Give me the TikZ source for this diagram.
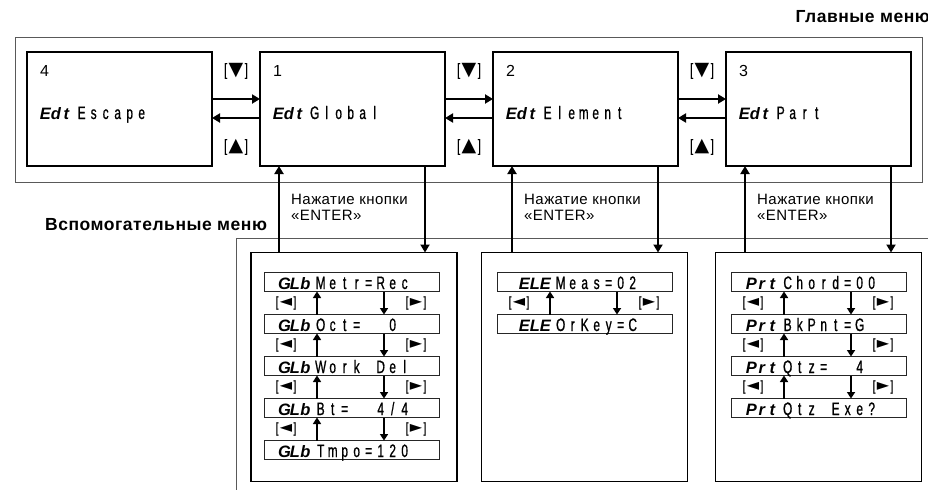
\documentclass[tikz,border=0pt]{standalone}
\usepackage{fontspec}
\setmainfont{Liberation Sans}
\newfontfamily\lcdfont[FakeStretch=0.66,FakeBold=0.8]{Liberation Sans}
\newfontfamily\segfont{Liberation Sans}
\newfontfamily\keyfont{DejaVu Sans}
\newfontfamily\ttlfont[LetterSpace=3]{Liberation Sans}
\newfontfamily\lblfont[LetterSpace=3]{Liberation Sans}
\usetikzlibrary{arrows.meta,positioning,calc}

% fixed pitch text of the display
\newlength\lcdpitch
\setlength\lcdpitch{12pt}
\def\lcdloop#1{\ifx#1\relax\else\makebox[\lcdpitch][c]{#1}\expandafter\lcdloop\fi}
\newcommand\lcd[1]{{\lcdfont\expandafter\lcdloop#1\relax}}
\newcommand\seg[1]{{\segfont\bfseries\itshape\fontsize{16.5}{18}\selectfont\setlength\lcdpitch{10.5pt}\expandafter\lcdloop#1\relax}\hspace{4pt}}
\newcommand\key[2]{{\lcdfont[\hspace{1.5pt}{\keyfont\fontsize{#1}{#1}\selectfont #2}\hspace{1.5pt}]}}

\begin{document}
\begin{tikzpicture}[x=1pt,y=-1pt,
frame/.style={draw=black!65,line width=0.9pt},
mainbox/.style={draw,line width=2.3pt,minimum width=185pt,minimum height=114pt,inner sep=0pt,outer sep=0pt},
panel/.style={draw,line width=1.2pt,minimum width=206pt,minimum height=229pt,inner sep=0pt,outer sep=0pt},
lcdrow/.style={draw=black!85,line width=1pt,minimum width=175pt,minimum height=19pt,inner sep=0pt,outer sep=0pt},
lcdtxt/.style={anchor=base west,inner sep=0pt,font=\fontsize{18}{18}\selectfont},
numtxt/.style={anchor=base west,inner sep=0pt,font=\fontsize{16}{18}\selectfont},
conn/.style={line width=2.8pt,-{Triangle[length=8pt,width=9pt]}},
rowconn/.style={line width=2.6pt,-{Triangle[length=6.5pt,width=8pt]}},
bigkey/.style={inner sep=0pt,font=\fontsize{17}{18}\selectfont},
smallkey/.style={inner sep=0pt,font=\fontsize{14}{15}\selectfont},
ttl/.style={inner sep=0pt,font=\ttlfont\bfseries\fontsize{17.5}{20}\selectfont},
enterlbl/.style={anchor=west,align=left,inner sep=0pt,font=\lblfont\fontsize{15}{16.3}\selectfont}]
\useasboundingbox (0,0) rectangle (928,490);

%frames
\draw[frame] (15,37) rectangle (922,182);
\draw[frame] (928,238) -- (236,238) -- (236,490);
\node[ttl,anchor=base east] (mainttl) at (930,22) {Главные меню};
\node[ttl,anchor=base west] (subttl) at (45,230) {Вспомогательные меню};

%main menus
\node[mainbox] (m4) at (119.5,109) {};
\node[mainbox,right=48pt of m4] (m1) {};
\node[mainbox,right=48pt of m1] (m2) {};
\node[mainbox,right=48pt of m2] (m3) {};
\foreach \m/\n/\t in {m4/4/Escape,m1/1/Global,m2/2/Element,m3/3/Part}{
  \node[numtxt] (\m-num) at ([xshift=13pt,yshift=-24pt]\m.north west) {\n};
  \node[lcdtxt] (\m-txt) at ([xshift=13pt,yshift=-67pt]\m.north west) {\seg{Edt}\lcd{\t}};
}
\foreach \a/\b in {m4/m1,m1/m2,m2/m3}{
  \draw[conn] ([yshift=10pt]\a.east) -- ([yshift=10pt]\b.west);
  \draw[conn] ([yshift=-9pt]\b.west) -- ([yshift=-9pt]\a.east);
  \node[bigkey] (\a-dn) at ($(\a.east)!0.5!(\b.west)+(0,-38)$) {\key{19}{▼}};
  \node[bigkey] (\a-up) at ($(\a.east)!0.5!(\b.west)+(0,38)$) {\key{19}{▲}};
}

%sub menus
\node[panel] (p1) at (354,367) {};
\node[panel] (p2) at (584.5,367) {};
\node[panel] (p3) at (818.5,367) {};
\foreach \m/\p in {m1/p1,m2/p2,m3/p3}{
  \coordinate (\m-go) at ([xshift=19pt]\m.south west);
  \coordinate (\m-back) at ([xshift=-20pt]\m.south east);
  \draw[conn] (\m-go |- \p.north) -- (\m-go);
  \draw[conn] (\m-back) -- (\m-back |- \p.north);
  \node[enterlbl] (\m-enter) at ([xshift=31pt,yshift=-41pt]\m.south west) {Нажатие кнопки\\«ENTER»};
}

\foreach \t [count=\i] in {Metr=Rec,Oct=~~0,Work~Del,{Bt=~~4/4},Tmpo=120}{
  \node[lcdrow] (p1r\i) at ([xshift=-2.5pt,yshift={-29.5pt-(\i-1)*42pt}]p1.north) {};
  \node[lcdtxt] (p1t\i) at ([xshift=15pt,yshift=-7pt]p1r\i.west) {\seg{GLb}\lcd{\t}};
}
\foreach \t [count=\i] in {Meas=02,OrKey=C}{
  \node[lcdrow] (p2r\i) at ([yshift={-29.5pt-(\i-1)*42pt}]p2.north) {};
  \node[lcdtxt] (p2t\i) at ([xshift=22pt,yshift=-7pt]p2r\i.west) {\seg{ELE}\lcd{\t}};
}
\foreach \t [count=\i] in {Chord=00,BkPnt=G,Qtz=~~4,Qtz~Exe?}{
  \node[lcdrow] (p3r\i) at ([yshift={-29.5pt-(\i-1)*42pt}]p3.north) {};
  \node[lcdtxt] (p3t\i) at ([xshift=15pt,yshift=-7pt]p3r\i.west) {\seg{Prt}\lcd{\t}};
}

% arrows between the rows
\foreach \p/\n in {p1/4,p2/1,p3/3}{
  \foreach \i [evaluate=\i as \j using int(\i+1)] in {1,...,\n}{
    \draw[rowconn] ([xshift=53pt]\p r\j.north west) -- ([xshift=53pt]\p r\i.south west);
    \draw[rowconn] ([xshift=120pt]\p r\i.south west) -- ([xshift=120pt]\p r\j.north west);
    \node[smallkey] (\p l\i) at ($(\p r\i.south west)!0.5!(\p r\j.north west)+(22,0)$) {\key{16}{◄}};
    \node[smallkey] (\p k\i) at ($(\p r\i.south west)!0.5!(\p r\j.north west)+(152,0)$) {\key{16}{►}};
  }
}
\end{tikzpicture}
\end{document}
